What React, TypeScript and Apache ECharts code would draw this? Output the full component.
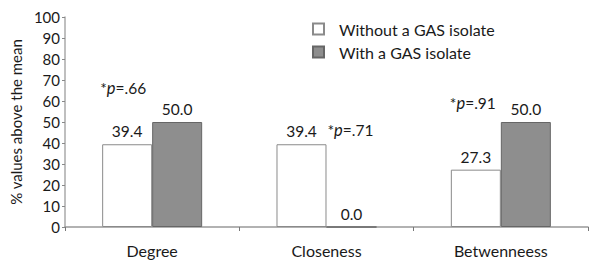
import React, { useEffect, useRef } from "react";
import * as echarts from "echarts";

const categories = ["Degree", "Closeness", "Betwenneess"];
const withoutGAS = [39.4, 39.4, 27.3];
const withGAS = [50.0, 0.0, 50.0];
const pLabels = ["66", "71", "91"];
const yTicks = { min: 0, max: 100, interval: 10 };

// pixel offsets for the p-value annotations (layout only)
const pOffsets = [
  [-29, -34],
  [24, -14],
  [-28, -19],
];

const FONT = "Lato, 'Open Sans', sans-serif";
const TXT = "#1a1a1a";

export default function App() {
  const ref = useRef<HTMLDivElement>(null);
  useEffect(() => {
    document.body.style.margin = "0";
    if (!ref.current) return;
    const chart = echarts.init(ref.current, null, { renderer: "svg" });
    const valueLabel = {
      show: true,
      position: "top",
      distance: 5,
      color: TXT,
      fontSize: 15.5,
      fontFamily: FONT,
      formatter: (p: any) => Number(p.value).toFixed(1),
    };
    chart.setOption({
      animation: false,
      backgroundColor: "#ffffff",
      textStyle: { fontFamily: FONT },
      grid: { left: 63, right: 4, top: 17, bottom: 37 },
      legend: {
        orient: "vertical",
        left: 307,
        top: 16,
        itemWidth: 11,
        itemHeight: 11,
        itemGap: 7,
        icon: "rect",
        textStyle: { fontSize: 16, color: TXT, fontFamily: FONT, padding: [0, 0, 0, 10] },
        data: ["Without a GAS isolate", "With a GAS isolate"],
      },
      xAxis: {
        type: "category",
        data: categories,
        axisLine: { lineStyle: { color: "#999", width: 1.5 } },
        axisTick: { show: true, length: 4, lineStyle: { color: "#777" } },
        axisLabel: { color: TXT, fontSize: 16, margin: 15, fontFamily: FONT },
      },
      yAxis: {
        type: "value",
        min: yTicks.min,
        max: yTicks.max,
        interval: yTicks.interval,
        name: "% values above the mean",
        nameLocation: "middle",
        nameGap: 29,
        nameTextStyle: { color: TXT, fontSize: 15, fontFamily: FONT },
        axisLine: { show: true, lineStyle: { color: "#aaa", width: 1.5 } },
        axisTick: { show: true, length: 3, lineStyle: { color: "#888" } },
        axisLabel: { color: TXT, fontSize: 15, margin: 5, fontFamily: FONT },
        splitLine: { show: false },
      },
      series: [
        {
          name: "Without a GAS isolate",
          type: "bar",
          data: withoutGAS,
          barWidth: 50,
          barGap: "0%",
          itemStyle: { color: "#ffffff", borderColor: "#8a8a8a", borderWidth: 1 },
          label: valueLabel,
        },
        {
          name: "With a GAS isolate",
          type: "bar",
          data: withGAS,
          barWidth: 50,
          itemStyle: { color: "#8e8e8e", borderColor: "#666", borderWidth: 1 },
          label: valueLabel,
        },
      ],
    });
    const graphics = categories.map((c, i) => {
      const top = Math.max(withoutGAS[i], withGAS[i]);
      const pt = chart.convertToPixel({ gridIndex: 0 }, [c, top]) as number[];
      return {
        type: "text",
        x: pt[0] + pOffsets[i][0],
        y: pt[1] + pOffsets[i][1],
        style: {
          text: "*{i|p}=." + pLabels[i],
          fill: TXT,
          fontSize: 15.5,
          fontFamily: FONT,
          align: "center",
          verticalAlign: "middle",
          rich: { i: { fontStyle: "italic", fontSize: 16.5, fontFamily: FONT, fill: TXT } },
        },
      };
    });
    chart.setOption({ graphic: graphics });
    return () => chart.dispose();
  }, []);
  return <div ref={ref} style={{ width: 592, height: 264 }} />;
}
